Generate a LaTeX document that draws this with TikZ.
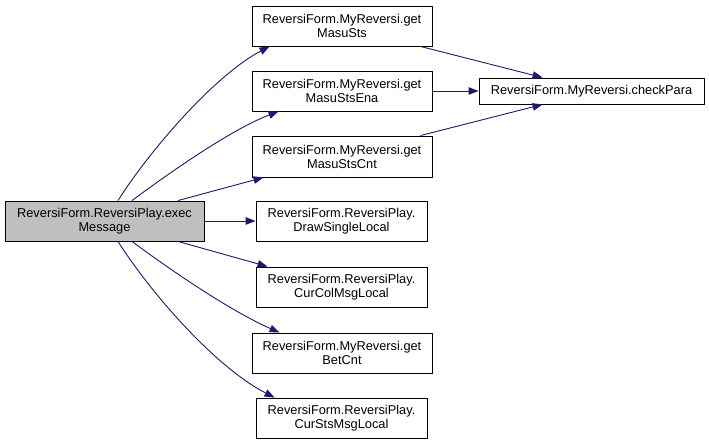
\documentclass[tikz,border=0pt]{standalone}
\usepackage{fontspec}
\setmainfont{Liberation Sans}
\usetikzlibrary{arrows.meta,calc}
\definecolor{edgec}{HTML}{191970}
\definecolor{mainfill}{HTML}{BFBFBF}
\begin{document}
\begin{tikzpicture}[x=1pt,y=-1pt,
  box/.style={draw=black,line width=0.9pt,fill=white,inner sep=0pt,align=center,
    font=\fontsize{12.8}{14}\selectfont},
  edge/.style={draw=edgec,line width=0.9pt,-{Triangle[length=10pt,width=7.5pt]}}]
\useasboundingbox (0,0) rectangle (709,444);
\node[box,fill=mainfill,minimum width=199pt,minimum height=40pt] (main) at (104.5,221) {ReversiForm.ReversiPlay.exec\\Message};
\node[box,minimum width=180pt,minimum height=40pt] (ms) at (342,26) {ReversiForm.MyReversi.get\\MasuSts};
\node[box,minimum width=180pt,minimum height=40pt] (mse) at (342,91) {ReversiForm.MyReversi.get\\MasuStsEna};
\node[box,minimum width=180pt,minimum height=41pt] (msc) at (342,156.5) {ReversiForm.MyReversi.get\\MasuStsCnt};
\node[box,minimum width=171pt,minimum height=40pt] (dsl) at (341.5,221) {ReversiForm.ReversiPlay.\\DrawSingleLocal};
\node[box,minimum width=171pt,minimum height=40pt] (ccm) at (341.5,287) {ReversiForm.ReversiPlay.\\CurColMsgLocal};
\node[box,minimum width=180pt,minimum height=40pt] (bet) at (342,353) {ReversiForm.MyReversi.get\\BetCnt};
\node[box,minimum width=171pt,minimum height=40pt] (csm) at (341.5,418) {ReversiForm.ReversiPlay.\\CurStsMsgLocal};
\node[box,minimum width=225pt,minimum height=26pt] (cp) at (591.5,91) {ReversiForm.MyReversi.checkPara};
% edges from main
\draw[edge] ($(main.north)+(13.5,0)$) .. controls (150,150) and (215,75) .. ($(ms.south west)+(18,0)$);
\draw[edge] ($(main.north)+(27.5,0)$) .. controls (180,165) and (235,128) .. ($(mse.south west)+(27,0)$);
\draw[edge] ($(main.north)+(73.5,0)$) -- ($(msc.south west)+(12,0)$);
\draw[edge] (main.east) -- (dsl.west);
\draw[edge] ($(main.south)+(73.5,0)$) -- ($(ccm.north west)+(12,0)$);
\draw[edge] ($(main.south)+(27.5,0)$) .. controls (180,277) and (235,313) .. ($(bet.north west)+(28,0)$);
\draw[edge] ($(main.south)+(13.5,0)$) .. controls (150,292) and (215,367) .. ($(csm.north west)+(19,0)$);
% edges to checkPara
\draw[edge] ($(ms.south east)+(-12,0)$) -- ($(cp.north west)+(64,0)$);
\draw[edge] (mse.east) -- (cp.west);
\draw[edge] ($(msc.north east)+(-12,0)$) -- ($(cp.south west)+(64,0)$);
\end{tikzpicture}
\end{document}
